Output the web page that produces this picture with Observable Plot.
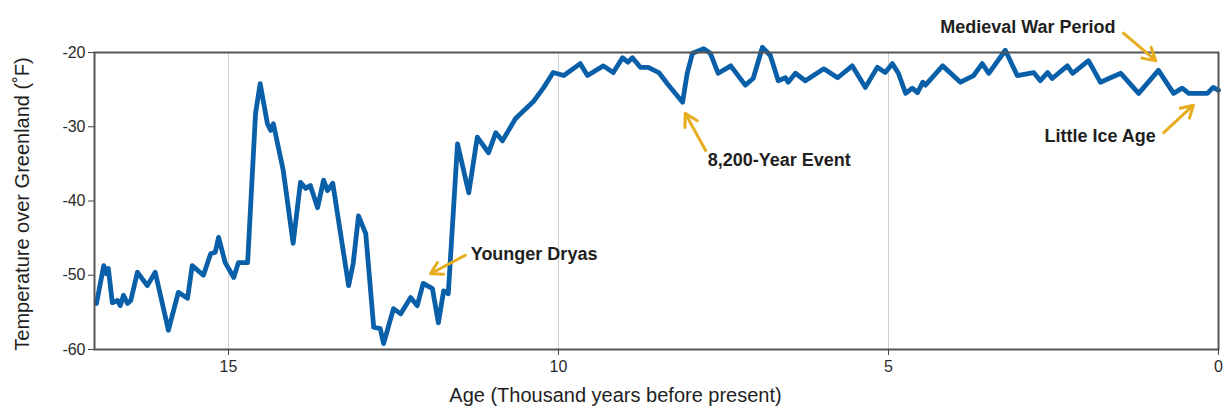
<!DOCTYPE html>
<html>
<head>
<meta charset="utf-8">
<script src="https://cdn.jsdelivr.net/npm/d3@7"></script>
<script src="https://cdn.jsdelivr.net/npm/@observablehq/plot@0.6"></script>
<style>
  html, body { margin: 0; padding: 0; background: #fff; }
  #chart { width: 1224px; height: 411px; }
</style>
</head>
<body>
<div id="chart"></div>
<script>
// Age in thousand years before present
const ages = [17.0, 16.89, 16.85, 16.82, 16.76, 16.68, 16.64, 16.59, 16.53, 16.48,
  16.38, 16.23, 16.11, 15.91, 15.76, 15.62, 15.55, 15.38, 15.27, 15.2,
  15.15, 15.05, 14.92, 14.85, 14.71, 14.59, 14.52, 14.41, 14.36, 14.32,
  14.17, 14.02, 13.91, 13.83, 13.76, 13.65, 13.56, 13.5, 13.42, 13.18,
  13.11, 13.03, 12.92, 12.8, 12.7, 12.65, 12.5, 12.39, 12.24, 12.14,
  12.05, 11.91, 11.82, 11.74, 11.67, 11.53, 11.36, 11.23, 11.06, 10.95,
  10.85, 10.65, 10.38, 10.23, 10.08, 9.92, 9.67, 9.56, 9.32, 9.17,
  9.03, 8.95, 8.88, 8.76, 8.64, 8.48, 8.35, 8.12, 8.05, 7.97,
  7.8, 7.7, 7.58, 7.39, 7.17, 7.05, 6.91, 6.79, 6.67, 6.56,
  6.52, 6.41, 6.26, 5.98, 5.77, 5.55, 5.35, 5.17, 5.05, 4.94,
  4.85, 4.74, 4.64, 4.56, 4.48, 4.44, 4.18, 3.91, 3.71, 3.58,
  3.48, 3.23, 3.05, 2.8, 2.7, 2.59, 2.52, 2.29, 2.21, 1.97,
  1.79, 1.48, 1.21, 0.91, 0.68, 0.55, 0.45, 0.17, 0.08, 0.0];

// Temperature over Greenland (°F)
const temps = [-53.8, -48.7, -49.8, -49.1, -53.7, -53.4, -54.1, -52.7, -53.8, -53.4,
  -49.6, -51.4, -49.6, -57.4, -52.3, -53.1, -48.7, -50.0, -47.1, -46.9,
  -44.9, -48.3, -50.3, -48.3, -48.3, -28.2, -24.2, -29.6, -30.5, -29.6,
  -35.9, -45.7, -37.5, -38.3, -37.9, -40.9, -37.2, -38.6, -37.6, -51.4,
  -48.4, -42.0, -44.4, -57.0, -57.2, -59.2, -54.5, -55.2, -53.0, -54.1,
  -51.1, -51.8, -56.4, -52.1, -52.5, -32.3, -38.9, -31.4, -33.5, -30.8,
  -31.9, -28.9, -26.6, -24.8, -22.7, -23.1, -21.5, -23.1, -21.8, -22.7,
  -20.7, -21.3, -20.7, -22.0, -22.0, -22.7, -24.2, -26.7, -22.8, -20.1,
  -19.5, -20.1, -22.8, -21.8, -24.4, -23.5, -19.3, -20.4, -23.8, -23.4,
  -24.0, -22.8, -23.8, -22.2, -23.4, -21.8, -24.7, -22.0, -22.7, -21.5,
  -22.8, -25.5, -24.8, -25.4, -24.0, -24.4, -21.8, -24.0, -23.1, -21.5,
  -22.8, -19.7, -23.1, -22.7, -23.8, -22.7, -23.5, -21.8, -22.8, -21.1,
  -24.0, -22.8, -25.5, -22.4, -25.5, -24.8, -25.5, -25.5, -24.7, -25.1];

const yTicks = [-60, -50, -40, -30, -20];
const xTicks = [15, 10, 5, 0];
const gridAges = [15, 10, 5];

// Annotations (data coordinates)
const annLabels = ["Younger Dryas", "8,200-Year Event", "Medieval War Period", "Little Ice Age"];
const annAge = [11.33, 7.74, 1.56, 0.95];
const annTemp = [-47.2, -34.5, -16.6, -31.3];
const annAnchor = ["start", "start", "end", "end"];
const arrowFromAge = [11.41, 7.77, 1.44, 0.83];
const arrowFromTemp = [-47.3, -33.2, -17.4, -30.8];
const arrowToAge = [11.94, 8.08, 0.95, 0.38];
const arrowToTemp = [-49.8, -28.2, -21.1, -27.1];

const series = ages.map((a, i) => ({age: a, temp: temps[i]}));
const anns = annLabels.map((t, i) => ({label: t, age: annAge[i], temp: annTemp[i], anchor: annAnchor[i]}));
const arrows = annLabels.map((t, i) => ({x1: arrowFromAge[i], y1: arrowFromTemp[i], x2: arrowToAge[i], y2: arrowToTemp[i]}));

const font = "'Liberation Sans', Arial, sans-serif";
const gold = "#e6ad1e";

const chart = Plot.plot({
  width: 1224,
  height: 411,
  marginLeft: 94,
  marginRight: 6,
  marginTop: 52,
  marginBottom: 62,
  style: {fontFamily: font, fontSize: "16px", color: "#2a2a2a", background: "#fff", overflow: "visible"},
  x: {domain: [17.03, 0]},
  y: {domain: [-60, -20]},
  marks: [
    Plot.ruleX(gridAges, {stroke: "#cfcfcf", strokeWidth: 1}),
    Plot.line(series, {x: "age", y: "temp", stroke: "#0a5fa9", strokeWidth: 4.8, strokeLinejoin: "round", strokeLinecap: "round"}),
    Plot.frame({stroke: "#555", strokeWidth: 2}),
    Plot.axisY(yTicks, {ticks: yTicks, tickSize: 6, tickPadding: 3, tickFormat: d => String(d), label: null, stroke: "#444", fill: "#2a2a2a", fontSize: 16}),
    Plot.axisX(xTicks, {ticks: xTicks, tickSize: 6, tickPadding: 5, tickFormat: d => String(d), label: null, stroke: "#444", fill: "#2a2a2a", fontSize: 16}),
    Plot.text(["Age (Thousand years before present)"], {frameAnchor: "bottom", dx: -41, dy: 52, fontSize: 20, fill: "#1f1f1f"}),
    Plot.text(["Temperature over Greenland (˚F)"], {frameAnchor: "left", textAnchor: "middle", dx: -72, dy: 3, rotate: -90, fontSize: 20, fill: "#1f1f1f"}),
    Plot.arrow(arrows, {x1: "x1", y1: "y1", x2: "x2", y2: "y2", stroke: gold, strokeWidth: 3, headLength: 10}),
    Plot.text(anns.filter(d => d.anchor === "start"), {x: "age", y: "temp", text: "label", textAnchor: "start", fontSize: 18, fontWeight: "bold", fill: "#1f1f1f"}),
    Plot.text(anns.filter(d => d.anchor === "end"), {x: "age", y: "temp", text: "label", textAnchor: "end", fontSize: 18, fontWeight: "bold", fill: "#1f1f1f"})
  ]
});
document.getElementById("chart").appendChild(chart);
</script>
</body>
</html>
